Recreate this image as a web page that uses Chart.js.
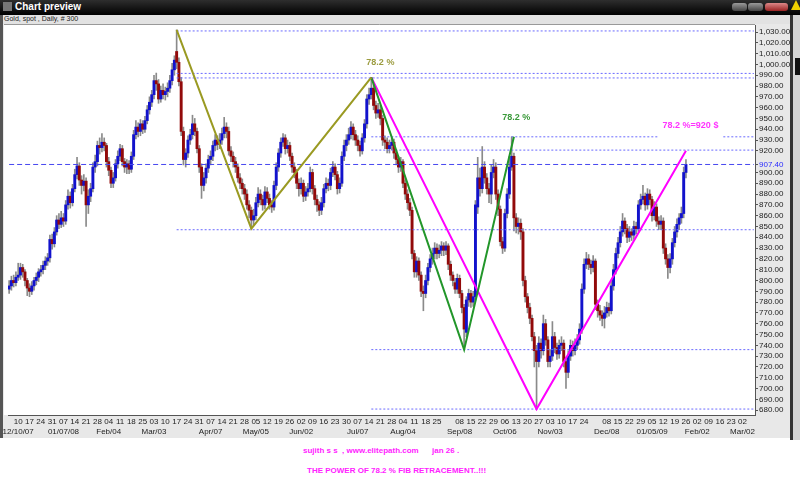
<!DOCTYPE html>
<html>
<head>
<meta charset="utf-8">
<script src="https://cdn.jsdelivr.net/npm/chart.js@4.4.0/dist/chart.umd.min.js"></script>
<style>
  body { margin: 0; width: 800px; height: 500px; background: #fff; overflow: hidden; position: relative;
         font-family: "Liberation Sans", Arial, sans-serif; }
  #titlebar { position: absolute; left: 0; top: 0; width: 800px; height: 15px; background: linear-gradient(#2e2e2e, #000); }
  #titlebar .ico { position: absolute; left: 3px; top: 2px; width: 9px; height: 9px; background: #777; }
  #titlebar .cap { position: absolute; left: 15px; top: 1px; color: #fff; font-weight: bold; font-size: 10px; }
  .btn { position: absolute; top: 3px; height: 8px; border-radius: 3px; background: linear-gradient(#9a9a9a, #444); }
  #info { position: absolute; left: 0; top: 15px; width: 792px; height: 9px; background: #e2e2e2; }
  #info span { position: absolute; left: 4px; top: 0; font-size: 7px; color: #222; }
  #panel { position: absolute; left: 0; top: 24px; width: 790px; height: 414px; background: #e8e8e8; }
  #leftedge { position: absolute; left: 0; top: 15px; width: 3px; height: 423px; background: #555; }
  #rightedge { position: absolute; left: 790px; top: 15px; width: 3px; height: 425px; background: #333; }
  #scroll { position: absolute; left: 793px; top: 15px; width: 7px; height: 425px; background: #d4d4d4; }
  #thumb { position: absolute; left: 795px; top: 58px; width: 5px; height: 17px; background: #111; }
  .foot { position: absolute; font-weight: bold; font-size: 8px; color: #ff22ff; white-space: pre; }
</style>
</head>
<body>
<div id="titlebar">
  <div class="ico"></div><div class="cap">Chart preview</div>
  <div class="btn" style="left:732px;width:15px"></div>
  <div class="btn" style="left:748px;width:15px"></div>
  <div class="btn" style="left:765px;width:23px;background:linear-gradient(#d88,#922)"></div>
  <div style="position:absolute;left:791px;top:0;width:0;height:0;border-left:5px solid transparent;border-right:5px solid transparent;border-bottom:10px solid #f0d000"></div>
</div>
<div id="info"><span>Gold, spot , Daily, # 300</span></div>
<div id="panel"><canvas id="chart"></canvas></div>
<div id="leftedge"></div>
<div id="rightedge"></div>
<div id="scroll"></div>
<div id="thumb"></div>
<div class="foot" style="left:303px;top:446px">sujith s s  , www.elitepath.com      jan 26 .</div>
<div class="foot" style="left:307px;top:466px">THE POWER OF 78.2 % FIB RETRACEMENT..!!!</div>

<script>
// --- dados: Gold spot diário, 04/12/2007 a 26/01/2009 (300 barras) ---

const firstDay = '2007-12-04';
const slotCount = 330; // 300 barras + espaço vazio à direita

const openPx = [
  792, 795, 800, 798,
  803, 805, 812, 808, 800,   793, 790, 795, 800, 803,   808, 810, 814, 818, 821,
  838, 834, 845, 856, 852,   858, 855, 870, 878, 872,   885, 898, 906, 893, 888,
  892, 870, 878, 885, 905,   910, 925, 923, 928, 925,   910, 902, 890, 895, 908,
  915, 922, 910, 905, 908,   903, 915, 935, 942, 938,   945, 940, 948, 958, 965,
  972, 985, 982, 968, 976,   972, 975, 978, 985, 995,   1012, 1002, 984, 938, 912,
  918, 930, 935, 945, 938,   922, 905, 888, 895, 904,   912, 915, 925, 930, 926,
  930, 936, 942, 938, 920,   915, 910, 905, 895, 890,   885, 880, 870, 865, 856,
  860, 872, 880, 875, 870,   882, 876, 870, 868, 888,   905, 918, 928, 932, 922,
  925, 915, 905, 900, 890,   885, 890, 878, 882, 885,   900, 885, 875, 870, 865,
  872, 885, 890, 888, 900,   905, 898, 885, 890, 915,   925, 930, 935, 942, 935,
  930, 925, 920, 932, 945,   968, 972, 978, 962, 955,   958, 950, 930, 928, 922,
  925, 928, 918, 912, 905,   910, 890, 880, 872, 865,   825, 808, 818, 805, 790,
  788, 800, 812, 820, 825,   830, 825, 828, 832, 828,   832, 815, 805, 798, 792,
  802, 788, 775, 752, 782,   788, 780, 785, 868, 895,   885, 905, 895, 885, 880,
  900, 905, 880, 866, 836,   830, 862, 880, 905, 915,   858, 850, 853, 845, 800,
  785, 775, 765, 748, 735,   725, 742, 735, 760, 745,   725, 730, 748, 738, 732,
  740, 742, 725, 715, 730,   740, 735, 740, 745, 755,   792, 815, 820, 815, 812,
  818, 778, 772, 768, 765,   770, 775, 772, 795, 810,   825, 835, 845, 855, 848,
  840, 845, 842, 850, 848,   870, 875, 878, 870, 880,   875, 860, 868, 855, 852,
  855, 830, 820, 812, 820,   835, 845, 852, 858, 862,   900
];
const highPx = [
  800, 804, 805, 808,
  816, 816, 815, 810, 802,   797, 799, 803, 807, 811,   814, 818, 822, 825, 842,
  843, 849, 860, 862, 864,   862, 874, 884, 882, 889,   903, 914, 909, 897, 898,
  895, 884, 890, 909, 916,   929, 932, 936, 932, 927,   914, 905, 900, 912, 920,
  926, 925, 913, 912, 911,   919, 939, 948, 946, 949,   948, 952, 962, 970, 976,
  990, 992, 986, 980, 982,   979, 983, 990, 1001, 1008,  1032, 1006, 988, 942, 922,
  934, 940, 953, 950, 941,   925, 908, 900, 908, 916,   920, 929, 935, 934, 936,
  941, 951, 946, 942, 924,   919, 914, 908, 899, 894,   889, 884, 874, 868, 866,
  877, 886, 884, 879, 887,   886, 880, 874, 892, 909,   922, 932, 936, 935, 930,
  928, 918, 909, 903, 894,   895, 893, 887, 890, 905,   903, 888, 879, 873, 877,
  889, 895, 894, 904, 910,   908, 901, 895, 919, 930,   935, 941, 947, 945, 939,
  934, 929, 936, 949, 972,   978, 988, 982, 966, 964,   962, 953, 934, 932, 930,
  932, 931, 921, 915, 914,   912, 893, 884, 876, 868,   828, 822, 821, 808, 795,
  805, 816, 824, 830, 835,   834, 833, 836, 835, 836,   834, 818, 808, 802, 806,
  805, 791, 778, 785, 792,   791, 790, 874, 914, 904,   924, 910, 899, 890, 907,
  912, 909, 884, 869, 840,   866, 885, 915, 933, 918,   862, 858, 857, 848, 804,
  788, 779, 768, 752, 740,   748, 746, 768, 764, 748,   736, 762, 752, 742, 745,
  748, 745, 729, 735, 745,   744, 746, 750, 760, 797,   820, 826, 824, 819, 823,
  820, 782, 777, 772, 776,   780, 779, 800, 815, 830,   840, 850, 862, 858, 852,
  850, 848, 855, 854, 874,   880, 888, 881, 885, 884,   878, 873, 871, 859, 860,
  858, 834, 824, 825, 839,   850, 857, 862, 868, 905,   912
];
const lowPx = [
  788, 791, 794, 795,
  800, 801, 803, 795, 786,   785, 787, 791, 796, 799,   804, 806, 810, 814, 817,
  829, 831, 842, 848, 849,   850, 852, 866, 867, 869,   882, 894, 888, 880, 883,
  850, 862, 873, 882, 900,   906, 917, 919, 920, 905,   897, 886, 886, 892, 904,
  911, 906, 900, 899, 899,   900, 912, 931, 933, 934,   936, 937, 945, 954, 961,
  968, 976, 964, 965, 968,   967, 970, 974, 981, 990,   996, 980, 934, 907, 905,
  914, 926, 931, 934, 918,   900, 876, 883, 890, 900,   907, 911, 920, 921, 922,
  926, 932, 932, 916, 910,   905, 900, 891, 885, 880,   875, 866, 858, 848, 851,
  856, 868, 870, 865, 866,   872, 866, 863, 865, 884,   901, 914, 924, 917, 918,
  911, 900, 895, 885, 878,   880, 873, 874, 878, 882,   880, 870, 864, 860, 861,
  868, 881, 883, 884, 896,   893, 880, 881, 887, 911,   920, 926, 931, 930, 925,
  920, 915, 917, 928, 941,   963, 968, 958, 950, 951,   944, 925, 922, 918, 918,
  921, 913, 907, 900, 901,   886, 875, 866, 860, 820,   803, 803, 800, 785, 772,
  784, 796, 808, 815, 820,   820, 821, 823, 823, 824,   810, 800, 795, 788, 788,
  784, 770, 736, 748, 776,   775, 776, 782, 862, 878,   881, 890, 880, 872, 871,
  895, 875, 860, 832, 825,   827, 858, 876, 902, 846,   844, 843, 838, 795, 780,
  770, 760, 744, 720, 681,   720, 728, 731, 740, 720,   720, 726, 733, 727, 728,
  735, 720, 700, 710, 726,   730, 731, 736, 741, 751,   788, 811, 810, 806, 808,
  773, 766, 763, 758, 756,   766, 767, 769, 791, 806,   821, 831, 841, 843, 835,
  836, 837, 838, 843, 845,   866, 871, 865, 866, 870,   855, 856, 850, 847, 847,
  825, 815, 802, 807, 815,   831, 840, 847, 853, 858,   895
];
const closePx = [
  795, 800, 798, 803,
  805, 812, 808, 800, 793,   790, 795, 800, 803, 808,   810, 814, 818, 821, 838,
  834, 845, 856, 852, 858,   855, 870, 878, 872, 885,   898, 906, 893, 888, 892,
  870, 878, 885, 905, 910,   925, 923, 928, 925, 910,   902, 890, 895, 908, 915,
  922, 910, 905, 908, 903,   915, 935, 942, 938, 945,   940, 948, 958, 965, 972,
  985, 982, 968, 976, 972,   975, 978, 985, 995, 1004,  1002, 984, 938, 912, 918,
  930, 935, 945, 938, 922,   905, 888, 895, 904, 912,   915, 925, 930, 926, 930,
  936, 942, 938, 920, 915,   910, 905, 895, 890, 885,   880, 870, 865, 856, 860,
  872, 880, 875, 870, 882,   876, 870, 868, 888, 905,   918, 928, 932, 922, 925,
  915, 905, 900, 890, 885,   890, 878, 882, 885, 900,   885, 875, 870, 865, 872,
  885, 890, 888, 900, 905,   898, 885, 890, 915, 925,   930, 935, 942, 935, 930,
  925, 920, 932, 945, 968,   972, 978, 962, 955, 958,   950, 930, 928, 922, 925,
  928, 918, 912, 905, 910,   890, 880, 872, 865, 825,   808, 818, 805, 790, 788,
  800, 812, 820, 825, 830,   825, 828, 832, 828, 832,   815, 805, 800, 792, 802,
  788, 775, 755, 782, 788,   780, 785, 870, 895, 885,   905, 895, 885, 880, 900,
  905, 880, 866, 836, 830,   862, 880, 905, 915, 858,   850, 853, 845, 800, 785,
  775, 765, 748, 735, 725,   742, 735, 760, 745, 725,   730, 748, 738, 732, 740,
  742, 725, 715, 730, 740,   735, 740, 745, 755, 792,   815, 820, 815, 812, 818,
  778, 772, 768, 765, 770,   775, 772, 795, 810, 825,   835, 845, 855, 848, 840,
  845, 842, 850, 848, 870,   875, 878, 870, 880, 875,   860, 868, 855, 852, 855,
  830, 820, 812, 820, 835,   845, 852, 858, 862, 900,   907.4
];

// rótulos do eixo X: dia de cada segunda-feira (semana a semana) e mês
const dayTicks = ['10','17','24','31','07','14','21','28','04','11','18','25','03','10','17','24','31',
  '07','14','21','28','05','12','19','26','02','09','16','23','30','07','14','21','28','04','11','18','25',
  '','08','15','22','29','06','13','20','27','03','10','17','24','','08','15','22','29','05','12','19','26',
  '02','09','16','23','02'];
const monthWeeks = [0, 4, 8, 12, 17, 21, 25, 30, 34, 39, 43, 47, 52, 56, 60, 64];
const monthTexts = ['12/10/07','01/07/08','Feb/04','Mar/03','Apr/07','May/05','Jun/02','Jul/07',
  'Aug/04','Sep/08','Oct/06','Nov/03','Dec/08','01/05/09','Feb/02','Mar/02'];

// eixo Y
const yTickValues = [680,690,700,710,720,730,740,750,760,770,780,790,800,810,820,830,840,850,860,
  870,880,890,900,907.4,920,930,940,950,960,970,980,990,1000,1010,1020,1030];
const lastPrice = 907.4;

// linhas de Fibonacci (pivôs)
const oliveDates = ['2008-03-17', '2008-05-01', '2008-07-15'];
const olivePrices = [1032, 848, 988];
const greenDates = ['2008-07-15', '2008-09-10', '2008-10-10'];
const greenPrices = [988, 736, 933];
const pinkDates = ['2008-07-15', '2008-10-24', '2009-01-26'];
const pinkPrices = [988, 681, 920];

// níveis horizontais pontilhados
const levelPrices = [1031, 991.7, 987.5, 933, 920.7, 847, 736, 681];
const levelFrom = ['2008-03-17', '2008-03-17', '2008-03-17', '2008-07-15', '2008-07-15',
  '2008-03-17', '2008-07-15', '2008-07-15'];

// textos no gráfico
const notes = [
  { text: '78.2 %', date: '2008-07-21', price: 1002, color: '#9c9c40' },
  { text: '78.2 %', date: '2008-10-13', price: 951, color: '#3a9a3a' },
  { text: '78.2 %=920 $', date: '2009-01-28', price: 943, color: '#ff33ff', box: true }
];

// --- montagem ---

const slots = [];
for (let d = new Date(firstDay + 'T00:00:00Z'); slots.length < slotCount; d.setUTCDate(d.getUTCDate() + 1)) {
  const wd = d.getUTCDay();
  if (wd === 0 || wd === 6) continue;
  slots.push(d.toISOString().slice(0, 10));
}
const lastSlot = slots[slots.length - 1];

const UP = '#1212cc', DOWN = '#920a0a';

function pivots(dates, prices) {
  return dates.map((d, i) => ({ x: d, y: prices[i] }));
}

const datasets = [
  {
    type: 'bar', label: 'wick', order: 3, grouped: false,
    data: highPx.map((h, i) => [lowPx[i], h]),
    backgroundColor: '#8a8a8a', barThickness: 1
  },
  {
    type: 'bar', label: 'body', order: 2, grouped: false,
    data: openPx.map((o, i) => [o, closePx[i]]),
    backgroundColor: ctx => closePx[ctx.dataIndex] >= openPx[ctx.dataIndex] ? UP : DOWN,
    barPercentage: 1, categoryPercentage: 1
  }
];

levelPrices.forEach((p, i) => {
  datasets.push({
    type: 'line', order: 1, data: [{ x: levelFrom[i], y: p }, { x: lastSlot, y: p }],
    borderColor: '#6a6aff', borderWidth: 1, borderDash: [2, 2], pointRadius: 0
  });
});
datasets.push({
  type: 'line', order: 1, data: [{ x: slots[0], y: lastPrice }, { x: lastSlot, y: lastPrice }],
  borderColor: '#4646f0', borderWidth: 1, borderDash: [5, 3], pointRadius: 0
});

datasets.push({ type: 'line', order: 0, data: pivots(oliveDates, olivePrices),
  borderColor: '#9a9a22', borderWidth: 2, pointRadius: 0 });
datasets.push({ type: 'line', order: 0, data: pivots(greenDates, greenPrices),
  borderColor: '#22962a', borderWidth: 2, pointRadius: 0 });
datasets.push({ type: 'line', order: 0, data: pivots(pinkDates, pinkPrices),
  borderColor: '#ff00ff', borderWidth: 2, pointRadius: 0 });

const moldura = {
  id: 'moldura',
  beforeDraw(chart) {
    const { ctx, chartArea: a } = chart;
    ctx.save();
    ctx.fillStyle = '#fff';
    ctx.fillRect(4, a.top, a.right - 4, a.bottom - a.top);
    ctx.restore();
  },
  afterDatasetsDraw(chart) {
    const { ctx } = chart;
    const xs = chart.scales.x, ys = chart.scales.y;
    ctx.save();
    ctx.font = 'bold 9px "Liberation Sans", Arial, sans-serif';
    ctx.textAlign = 'center';
    ctx.textBaseline = 'middle';
    notes.forEach(n => {
      const x = xs.getPixelForValue(slots.indexOf(n.date));
      const y = ys.getPixelForValue(n.price);
      if (n.box) {
        const w = ctx.measureText(n.text).width;
        ctx.fillStyle = '#fff';
        ctx.fillRect(x - w / 2 - 4, y - 8, w + 8, 20);
      }
      ctx.fillStyle = n.color;
      ctx.fillText(n.text, x, y);
    });
    ctx.restore();
  },
  afterDraw(chart) {
    const { ctx, chartArea: a } = chart;
    ctx.save();
    ctx.strokeStyle = '#999';
    ctx.lineWidth = 1;
    ctx.beginPath();
    ctx.moveTo(4, a.top - 0.5);
    ctx.lineTo(a.right, a.top - 0.5);
    ctx.stroke();
    ctx.restore();
  }
};

Chart.defaults.font.family = '"Liberation Sans", Arial, sans-serif';

new Chart(document.getElementById('chart'), {
  data: { labels: slots, datasets },
  plugins: [moldura],
  options: {
    responsive: true,
    maintainAspectRatio: false,
    animation: false,
    layout: { padding: { left: 8, top: 1, right: 0, bottom: 0 } },
    plugins: { legend: { display: false }, tooltip: { enabled: false } },
    scales: {
      x: {
        type: 'category',
        offset: true,
        grid: { display: false, drawTicks: false, tickLength: 0 },
        border: { display: true, color: '#555' },
        afterFit: s => { s.height = 23; s.paddingLeft = 0; s.paddingRight = 0; },
        ticks: {
          autoSkip: false, maxRotation: 0, minRotation: 0, padding: 2,
          font: { size: 8, lineHeight: 1.25 }, color: '#222',
          callback: (v, idx) => {
            if (idx < 4 || (idx - 4) % 5) return '';
            const k = (idx - 4) / 5;
            const m = monthWeeks.indexOf(k);
            if (m >= 0) return [dayTicks[k] || '', monthTexts[m]];
            return dayTicks[k] || '';
          }
        }
      },
      y: {
        position: 'right',
        min: 675.5,
        max: 1036.5,
        afterBuildTicks: s => { s.ticks = yTickValues.map(v => ({ value: v })); },
        afterFit: s => { s.width = 35; s.paddingTop = 0; s.paddingBottom = 0; },
        grid: { drawOnChartArea: false, drawTicks: true, tickLength: 3, color: '#555' },
        border: { display: true, color: '#555' },
        ticks: {
          autoSkip: false, padding: 1, font: { size: 8 },
          color: c => c.tick && c.tick.value === lastPrice ? '#2a2aff' : '#222',
          callback: v => Number(v).toLocaleString('en-US', { minimumFractionDigits: 2, maximumFractionDigits: 2 })
        }
      }
    }
  }
});
</script>
</body>
</html>
